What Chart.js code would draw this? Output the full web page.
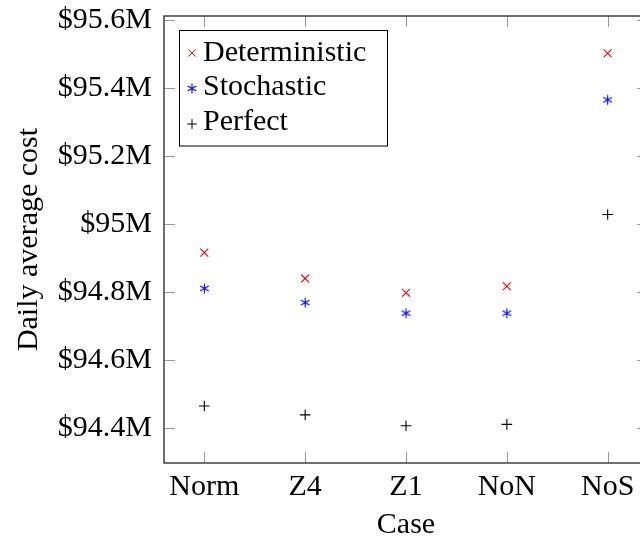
<!DOCTYPE html>
<html><head><meta charset="utf-8">
<script src="https://cdn.jsdelivr.net/npm/chart.js@4"></script>
<style>html,body{margin:0;padding:0;overflow:hidden;background:#fff;width:640px;height:539px}canvas{display:block}</style>
</head><body>
<canvas id="c" width="660" height="539" style="width:660px;height:539px"></canvas>
<script>
const categories = ["Norm", "Z4", "Z1", "NoN", "NoS"];
const deterministic = [94.916, 94.840, 94.798, 94.817, 95.502];
const stochastic = [94.811, 94.769, 94.738, 94.738, 95.365];
const perfect = [94.465, 94.439, 94.407, 94.411, 95.028];
const seriesNames = ["Deterministic", "Stochastic", "Perfect"];
const yTickValues = [94.4, 94.6, 94.8, 95.0, 95.2, 95.4, 95.6];
const yTickLabels = ["$94.4M", "$94.6M", "$94.8M", "$95M", "$95.2M", "$95.4M", "$95.6M"];

const FONT = "'Liberation Serif', 'Times New Roman', serif";
const FS = 30;

function asteriskImage(color, r) {
  const s = Math.ceil(2 * r + 3);
  const c = document.createElement('canvas');
  c.width = s; c.height = s;
  const g = c.getContext('2d');
  g.strokeStyle = color; g.lineWidth = 1.1;
  const cx = s / 2, cy = s / 2;
  for (let k = 0; k < 3; k++) {
    const a = Math.PI / 2 + k * Math.PI / 3;
    g.beginPath();
    g.moveTo(cx + r * Math.cos(a), cy - r * Math.sin(a));
    g.lineTo(cx - r * Math.cos(a), cy + r * Math.sin(a));
    g.stroke();
  }
  return c;
}
const astImg = asteriskImage('#0000ff', 5);

const toXY = arr => arr.map((v, i) => ({ x: i, y: v }));

const styles = [
  { pointStyle: 'crossRot', color: '#ff0000', radius: 5.6 },
  { pointStyle: astImg, color: '#0000ff', radius: 5 },
  { pointStyle: 'cross', color: '#000000', radius: 5.3 }
];
const seriesData = [deterministic, stochastic, perfect];

const frameLegend = {
  id: 'frameLegend',
  afterDraw(chart) {
    const { ctx, chartArea: a, scales: { x, y } } = chart;
    ctx.save();
    const L = 11;
    const line = (x1, y1, x2, y2) => { ctx.beginPath(); ctx.moveTo(x1, y1); ctx.lineTo(x2, y2); ctx.stroke(); };
    ctx.strokeStyle = '#9a9a9a'; ctx.lineWidth = 1;
    x.ticks.forEach(t => {
      const px = Math.round(x.getPixelForValue(t.value)) + 0.5;
      line(px, a.bottom, px, a.bottom - L);
      line(px, a.top, px, a.top + L);
    });
    y.ticks.forEach(t => {
      const py = Math.round(y.getPixelForValue(t.value)) + 0.5;
      line(a.left, py, a.left + L, py);
      line(a.right, py, a.right - L, py);
    });
    ctx.strokeStyle = '#222'; ctx.lineWidth = 1.3;
    ctx.strokeRect(a.left, a.top, a.right - a.left, a.bottom - a.top);

    // legend
    const bx = a.left + 15.5, by = a.top + 14.5, bw = 208, bh = 115.5;
    ctx.fillStyle = '#fff';
    ctx.fillRect(bx, by, bw, bh);
    ctx.strokeStyle = '#000'; ctx.lineWidth = 1;
    ctx.strokeRect(bx, by, bw, bh);
    ctx.font = FS + "px " + FONT;
    ctx.textBaseline = 'alphabetic';
    ctx.textAlign = 'left';
    seriesNames.forEach((name, i) => {
      const st = styles[i];
      const mx = a.left + 28, my = a.top + 37 + i * 35.5;
      ctx.strokeStyle = st.color; ctx.lineWidth = 1;
      const r = st.radius * 0.9;
      if (st.pointStyle === 'crossRot') {
        const d = r * Math.SQRT1_2;
        line(mx - d, my - d, mx + d, my + d);
        line(mx - d, my + d, mx + d, my - d);
      } else if (st.pointStyle === 'cross') {
        line(mx - r, my, mx + r, my);
        line(mx, my - r, mx, my + r);
      } else {
        ctx.drawImage(st.pointStyle, mx - st.pointStyle.width / 2, my - st.pointStyle.height / 2);
      }
      ctx.fillStyle = '#000';
      ctx.fillText(name, a.left + 39, a.top + 44.7 + i * 34.7);
    });
    ctx.restore();
  }
};

new Chart(document.getElementById('c'), {
  type: 'scatter',
  data: {
    datasets: seriesNames.map((name, i) => ({
      label: name,
      data: toXY(seriesData[i]),
      pointStyle: styles[i].pointStyle,
      pointRadius: styles[i].radius,
      pointHoverRadius: styles[i].radius,
      borderColor: styles[i].color,
      backgroundColor: styles[i].color,
      borderWidth: 1.1,
      showLine: false
    }))
  },
  options: {
    responsive: false,
    animation: false,
    devicePixelRatio: 1,
    layout: { padding: { top: 16, right: 12, left: 0, bottom: 0 } },
    plugins: { legend: { display: false }, tooltip: { enabled: false } },
    events: [],
    scales: {
      x: {
        type: 'linear', position: 'bottom',
        min: -0.4, max: 4.4,
        afterBuildTicks: s => { s.ticks = categories.map((c, i) => ({ value: i })); },
        afterFit: s => { s.height = 76; s.paddingLeft = 0; s.paddingRight = 0; },
        grid: { display: false }, border: { display: false },
        ticks: {
          callback: v => categories[v],
          font: { family: FONT, size: FS }, color: '#000',
          padding: -2, autoSkip: false, maxRotation: 0, minRotation: 0
        },
        title: { display: true, text: 'Case', color: '#000', font: { family: FONT, size: FS, lineHeight: 1.1 }, padding: { top: 0, bottom: -3 } }
      },
      y: {
        type: 'linear', position: 'left',
        min: 94.2975, max: 95.6115,
        afterBuildTicks: s => { s.ticks = yTickValues.map(v => ({ value: v })); },
        afterFit: s => { s.width = 164; s.paddingTop = 0; s.paddingBottom = 0; },
        grid: { display: false }, border: { display: false },
        ticks: {
          callback: (v, i) => yTickLabels[i],
          font: { family: FONT, size: FS }, color: '#000',
          padding: 4, autoSkip: false
        },
        title: { display: true, text: 'Daily average cost', color: '#000', font: { family: FONT, size: FS }, padding: { top: 11, bottom: 0 } }
      }
    }
  },
  plugins: [frameLegend]
});
</script>
</body></html>
